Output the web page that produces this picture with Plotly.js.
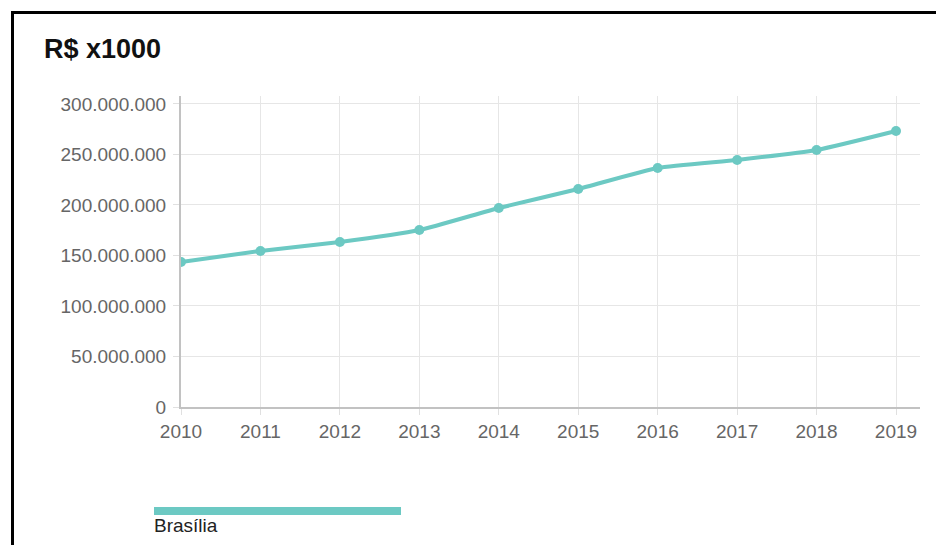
<!DOCTYPE html>
<html>
<head>
<meta charset="utf-8">
<script src="https://cdn.plot.ly/plotly-3.0.1.min.js"></script>
<style>
  html, body { margin: 0; padding: 0; background: #fff; }
  #wrap { position: relative; width: 936px; height: 545px; overflow: hidden; }
  #chart { position: absolute; left: 0; top: 0; width: 936px; height: 545px; }
  #frame { position: absolute; left: 11px; top: 11px; width: 940px; height: 560px;
           border-top: 3px solid #000; border-left: 3px solid #000; pointer-events: none; }
</style>
</head>
<body>
<div id="wrap">
  <div id="chart"></div>
  <div id="frame"></div>
</div>
<script>
const years = [2010, 2011, 2012, 2013, 2014, 2015, 2016, 2017, 2018, 2019];
const brasilia = [143600000, 154500000, 163400000, 175200000, 197000000, 215800000, 236600000, 244600000, 254500000, 273300000];
const seriesName = 'Brasília';
const chartTitle = 'R$ x1000';
const teal = '#6cc9c3';

const trace = {
  x: years,
  y: brasilia,
  name: seriesName,
  type: 'scatter',
  mode: 'lines+markers',
  line: { color: teal, width: 4, shape: 'spline', smoothing: 0.5 },
  marker: { color: teal, size: 10 },
  hoverinfo: 'x+y'
};

const layout = {
  width: 936,
  height: 545,
  margin: { l: 181, r: 16, t: 96, b: 138 },
  paper_bgcolor: '#fff',
  plot_bgcolor: '#fff',
  showlegend: false,
  separators: ',.',
  font: { family: 'Arial, "Liberation Sans", sans-serif', size: 19, color: '#666' },
  title: {
    text: '<b>' + chartTitle + '</b>',
    font: { size: 27, color: '#111' },
    x: 44 / 936, xanchor: 'left', xref: 'container',
    y: 1 - 49 / 545, yanchor: 'middle', yref: 'container'
  },
  xaxis: {
    range: [2010, 2019.302],
    tickvals: years,
    ticktext: years.map(String),
    showgrid: true,
    gridcolor: '#e6e6e6',
    gridwidth: 1,
    zeroline: false,
    showline: true,
    linecolor: '#c2c2c2',
    linewidth: 2,
    ticks: 'outside',
    ticklen: 6,
    tickcolor: '#e0e0e0',
    tickfont: { size: 19, color: '#666' },
    fixedrange: true
  },
  yaxis: {
    range: [0, 307.9e6],
    tick0: 0,
    dtick: 50e6,
    tickformat: ',d',
    showgrid: true,
    gridcolor: '#e6e6e6',
    gridwidth: 1,
    zeroline: false,
    showline: true,
    linecolor: '#c2c2c2',
    linewidth: 2,
    ticks: 'outside',
    ticklen: 6,
    tickcolor: '#e0e0e0',
    ticklabelstandoff: 3,
    tickfont: { size: 19, color: '#666' },
    fixedrange: true
  },
  shapes: [{
    type: 'rect', xref: 'paper', yref: 'paper',
    x0: (154 - 181) / 739, x1: (401 - 181) / 739,
    y0: (407 - 515) / 311, y1: (407 - 507) / 311,
    fillcolor: teal, line: { width: 0 }
  }],
  annotations: [{
    text: seriesName,
    xref: 'paper', yref: 'paper',
    x: (152 - 181) / 739, xanchor: 'left',
    y: (407 - 525) / 311, yanchor: 'middle',
    showarrow: false,
    font: { size: 19, color: '#222' }
  }]
};

Plotly.newPlot('chart', [trace], layout, { displayModeBar: false, staticPlot: true });
</script>
</body>
</html>
